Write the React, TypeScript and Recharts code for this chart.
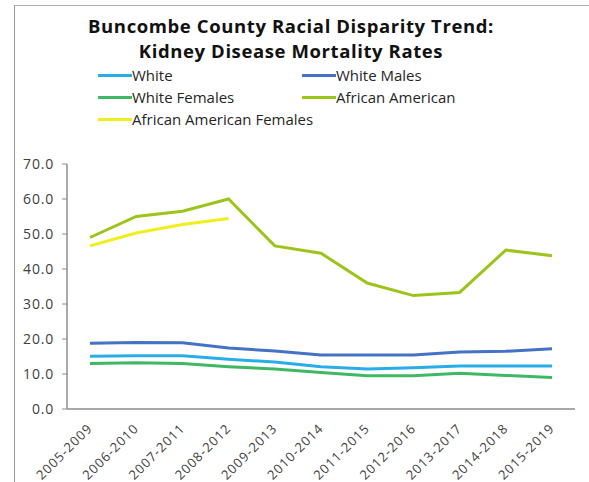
import React from 'react';
import { LineChart, Line, XAxis, YAxis } from 'recharts';

const periods = ['2005-2009','2006-2010','2007-2011','2008-2012','2009-2013','2010-2014','2011-2015','2012-2016','2013-2017','2014-2018','2015-2019'];
const white = [15.1, 15.2, 15.2, 14.2, 13.4, 12.1, 11.4, 11.8, 12.3, 12.3, 12.3];
const whiteMales = [18.8, 19.0, 18.9, 17.4, 16.6, 15.4, 15.4, 15.4, 16.3, 16.5, 17.2];
const whiteFemales = [13.0, 13.2, 13.0, 12.1, 11.4, 10.4, 9.5, 9.5, 10.2, 9.6, 9.0];
const africanAmerican = [49.0, 55.0, 56.5, 60.0, 46.6, 44.5, 36.0, 32.4, 33.3, 45.4, 43.8];
const africanAmericanFemales: (number | null)[] = [46.6, 50.3, 52.7, 54.4, null, null, null, null, null, null, null];
const yTicks = [0, 10, 20, 30, 40, 50, 60, 70];

const series = [
  { key: 'white', name: 'White', color: '#27aee8', values: white },
  { key: 'whiteMales', name: 'White Males', color: '#4472c4', values: whiteMales },
  { key: 'whiteFemales', name: 'White Females', color: '#3fb866', values: whiteFemales },
  { key: 'africanAmerican', name: 'African American', color: '#9cc51c', values: africanAmerican },
  { key: 'africanAmericanFemales', name: 'African American Females', color: '#f2ee1c', values: africanAmericanFemales },
];

const data = periods.map((p, i) => {
  const row: Record<string, any> = { period: p };
  series.forEach((s) => { row[s.key] = s.values[i]; });
  return row;
});

const FONT = '"Open Sans", "Noto Sans", sans-serif';

const XTick = (props: any) => {
  const { x, y, payload } = props;
  return (
    <g transform={`translate(${x},${y + 9})`}>
      <text transform="rotate(-45)" textAnchor="end" dy="0.35em" fontSize={13} letterSpacing={1} fill="#404040" fontFamily={FONT}>
        {payload.value}
      </text>
    </g>
  );
};

const legendPos = [
  { left: 98, top: 66 },
  { left: 302, top: 66 },
  { left: 98, top: 88 },
  { left: 302, top: 88 },
  { left: 98, top: 110 },
];
const legendOrder = ['white', 'whiteMales', 'whiteFemales', 'africanAmerican', 'africanAmericanFemales'];

export default function App() {
  return (
    <div style={{ position: 'absolute', left: 0, top: 0, width: 589, height: 482, background: '#fff', fontFamily: FONT }}>
      <div style={{ position: 'absolute', left: 14, top: 5, width: 575, height: 477, borderLeft: '1.5px solid #9a9a9a', borderTop: '1.5px solid #b0b0b0' }} />
      <div style={{ position: 'absolute', left: 0, top: 13, width: 582, textAlign: 'center', fontWeight: 700, fontSize: 18.5, letterSpacing: 0.6, lineHeight: '26px', color: '#111' }}>
        <div>Buncombe County Racial Disparity Trend:</div>
        <div style={{ marginTop: -1 }}>Kidney Disease Mortality Rates</div>
      </div>
      {legendOrder.map((k, i) => {
        const s = series.find((x) => x.key === k)!;
        return (
          <div key={k} style={{ position: 'absolute', left: legendPos[i].left, top: legendPos[i].top, height: 18, display: 'flex', alignItems: 'center', fontSize: 15, color: '#262626' }}>
            <span style={{ display: 'inline-block', width: 34, height: 3, background: s.color }} />
            <span>{s.name}</span>
          </div>
        );
      })}
      <div style={{ position: 'absolute', left: 0, top: 0 }}>
        <LineChart width={589} height={482} data={data} margin={{ top: 164, right: 14, bottom: 0, left: 16 }}>
          <XAxis
            dataKey="period"
            height={73}
            interval={0}
            padding={{ left: 23, right: 23 }}
            tick={<XTick />}
            tickLine={false}
            axisLine={{ stroke: '#8c8c8c', strokeWidth: 1.5 }}
          />
          <YAxis
            domain={[0, 70]}
            ticks={yTicks}
            width={51}
            tickFormatter={(v: number) => v.toFixed(1)}
            tick={{ fontSize: 14, fill: '#404040', fontFamily: FONT, letterSpacing: 0.8, dx: -6 }}
            tickLine={{ stroke: '#8c8c8c' }}
            tickSize={5}
            axisLine={{ stroke: '#8c8c8c', strokeWidth: 1.5 }}
          />
          {series.map((s) => (
            <Line
              key={s.key}
              type="linear"
              dataKey={s.key}
              name={s.name}
              stroke={s.color}
              strokeWidth={3}
              dot={false}
              isAnimationActive={false}
              connectNulls={false}
            />
          ))}
        </LineChart>
      </div>
    </div>
  );
}
